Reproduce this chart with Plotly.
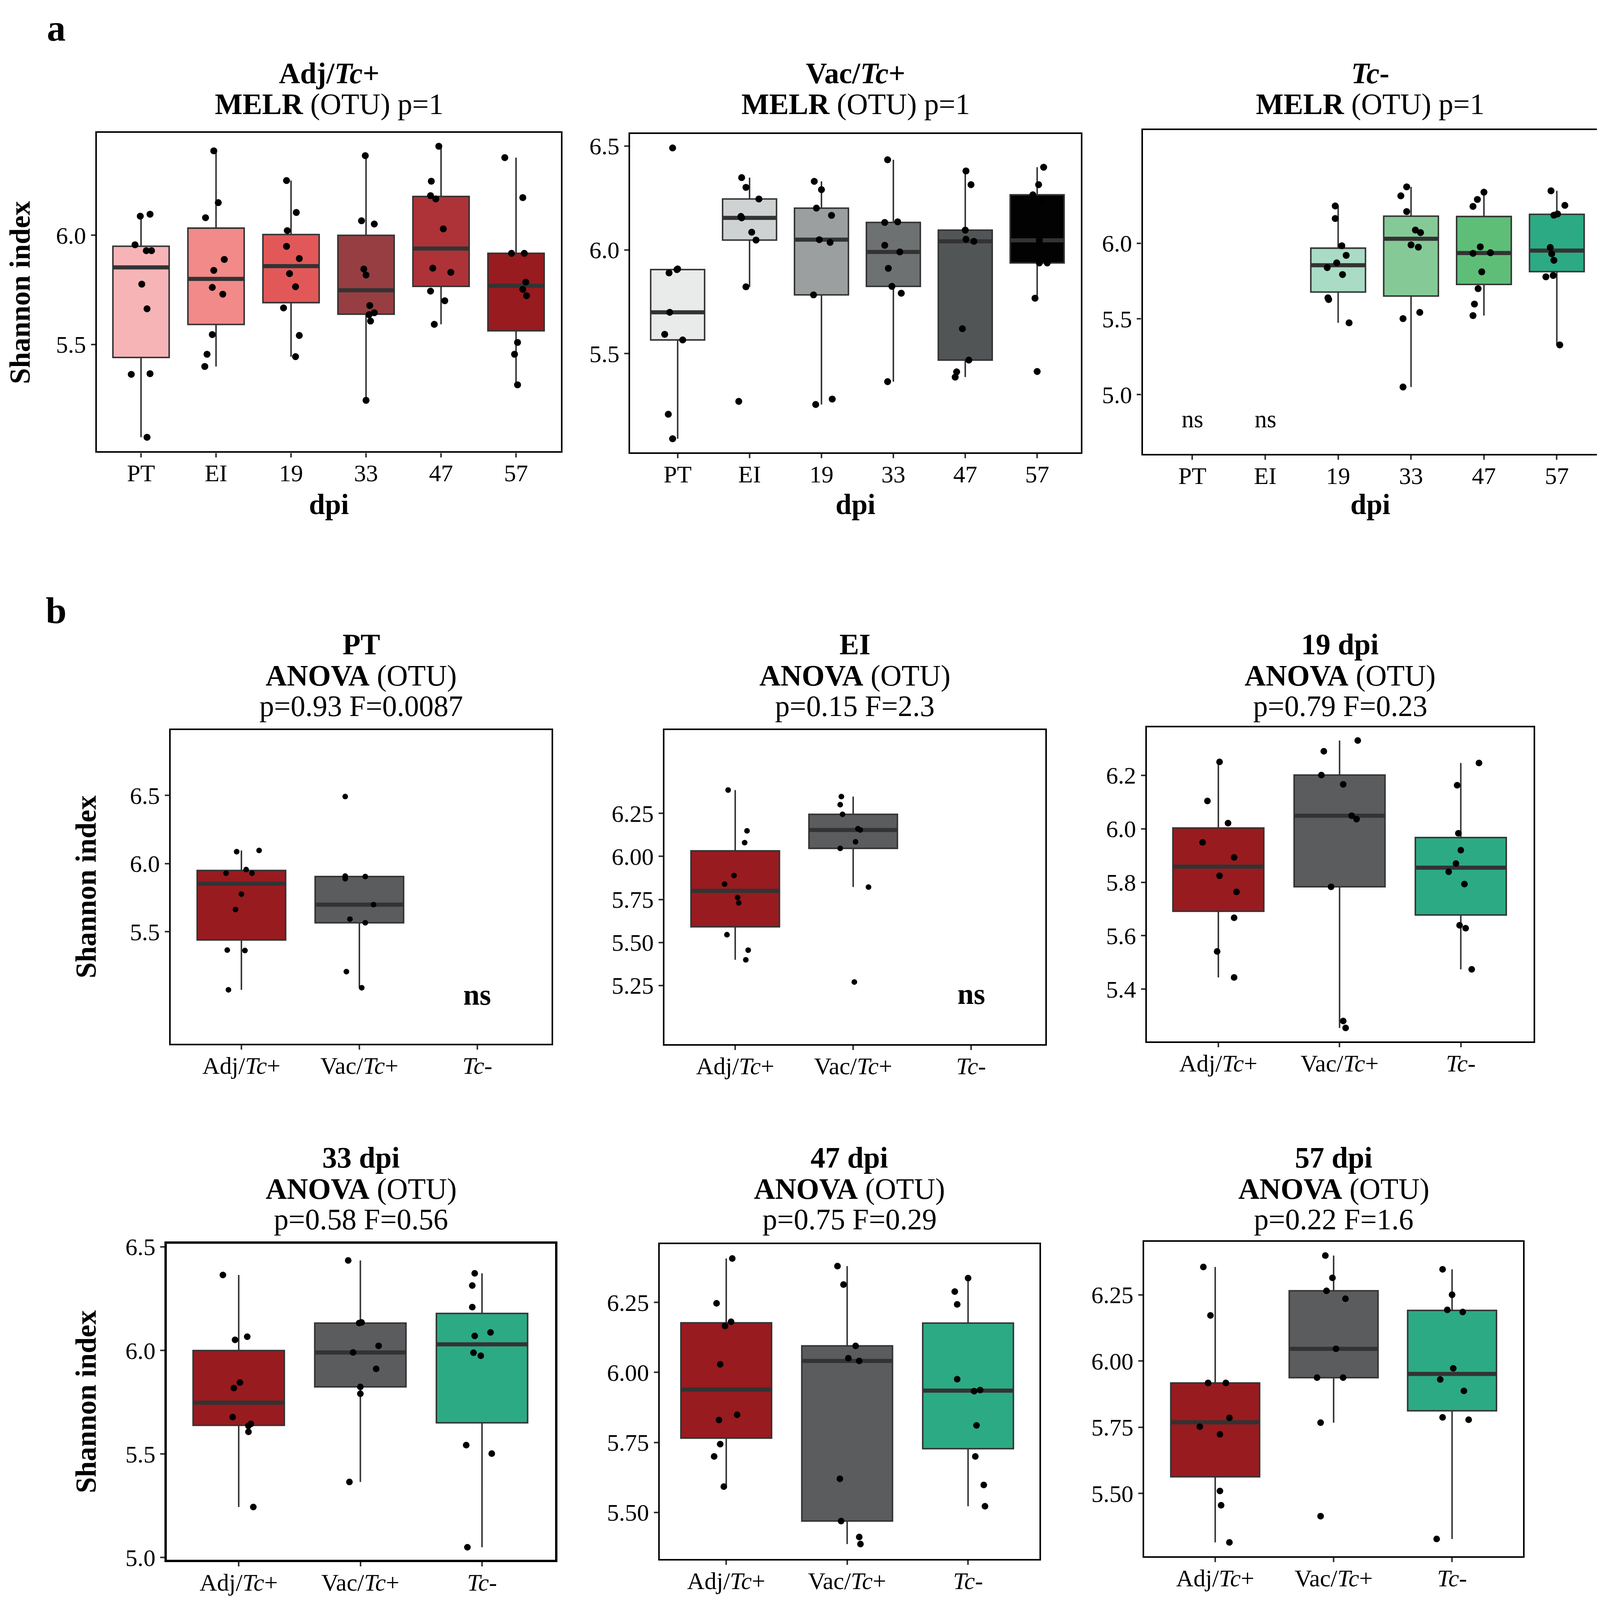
import numpy as np
import plotly.graph_objects as go

# the reference is laid out in a 4757 x 5815 pixel frame; the browser page is 4096 x 4096,
# so the layout is kept in fractions of that frame and pixel sizes are scaled down
REF_W, REF_H = 4757, 5815
FIG_W, FIG_H = 4088, 4088
K = 0.8                      # text scale
KM = 0.85                    # marker / line scale
KV = FIG_H / REF_H           # vertical scale
FONT = "Liberation Serif"

timepoints = ["PT", "EI", "19", "33", "47", "57"]
group_labels = ["Adj/<i>Tc</i>+", "Vac/<i>Tc</i>+", "<i>Tc</i>-"]

# Shannon index per animal
adj_shannon = {
    "PT": [6.096, 6.087, 5.956, 5.929, 5.929, 5.776, 5.663, 5.363, 5.366, 5.075],
    "EI": [6.386, 6.149, 6.080, 5.889, 5.839, 5.761, 5.730, 5.545, 5.455, 5.399],
    "19": [6.250, 6.104, 6.021, 5.949, 5.893, 5.824, 5.764, 5.667, 5.541, 5.444],
    "33": [6.364, 6.066, 6.051, 5.845, 5.818, 5.678, 5.645, 5.636, 5.607, 5.244],
    "47": [6.407, 6.247, 6.181, 6.166, 6.029, 5.849, 5.830, 5.744, 5.700, 5.592],
    "57": [6.355, 6.172, 5.917, 5.917, 5.785, 5.752, 5.723, 5.509, 5.455, 5.315],
}
vac_shannon = {
    "PT": [6.491, 5.908, 5.905, 5.889, 5.699, 5.593, 5.566, 5.208, 5.090],
    "EI": [6.348, 6.301, 6.245, 6.161, 6.154, 6.085, 6.047, 5.822, 5.270],
    "19": [6.330, 6.290, 6.201, 6.166, 6.049, 6.036, 5.783, 5.281, 5.255],
    "33": [6.434, 6.135, 6.132, 6.022, 5.990, 5.911, 5.824, 5.791, 5.365],
    "47": [6.380, 6.314, 6.095, 6.051, 6.041, 5.620, 5.469, 5.412, 5.387],
    "57": [6.398, 6.314, 6.265, 6.235, 6.046, 5.937, 5.937, 5.767, 5.414],
}
tcn_shannon = {
    "19": [6.246, 6.163, 5.983, 5.920, 5.870, 5.839, 5.793, 5.639, 5.628, 5.474],
    "33": [6.372, 6.313, 6.209, 6.087, 6.070, 5.989, 5.974, 5.543, 5.502, 5.050],
    "47": [6.337, 6.289, 6.243, 5.976, 5.937, 5.933, 5.811, 5.700, 5.598, 5.522],
    "57": [6.346, 6.250, 6.193, 6.185, 5.972, 5.930, 5.887, 5.787, 5.778, 5.328],
}

# horizontal jitter of each point (category units), panel a and panel b
adj_jit_a = {
    "PT": [0.12, -0.01, -0.08, 0.07, 0.14, 0.01, 0.08, -0.13, 0.12, 0.08],
    "EI": [-0.03, 0.03, -0.14, 0.11, -0.03, -0.05, 0.09, -0.05, -0.12, -0.15],
    "19": [-0.06, 0.07, -0.05, -0.06, 0.11, -0.02, 0.06, -0.10, 0.11, 0.06],
    "33": [-0.01, -0.06, 0.11, -0.03, 0.0, 0.05, 0.11, 0.04, 0.06, 0.0],
    "47": [-0.03, -0.13, -0.14, -0.07, 0.03, -0.11, 0.13, -0.14, 0.05, -0.09],
    "57": [-0.15, 0.09, -0.06, 0.11, 0.13, 0.09, 0.14, 0.02, -0.02, 0.02],
}
vac_jit_a = {
    "PT": [-0.07, 0.0, -0.01, -0.12, -0.11, -0.18, 0.07, -0.13, -0.07],
    "EI": [-0.11, -0.05, 0.13, -0.12, -0.11, 0.03, 0.09, -0.05, -0.15],
    "19": [-0.10, 0.0, -0.07, 0.14, -0.03, 0.12, -0.11, 0.15, -0.08],
    "33": [-0.08, 0.06, -0.12, -0.12, 0.09, -0.07, -0.02, 0.11, -0.08],
    "47": [0.01, 0.08, 0.0, 0.01, 0.12, -0.04, 0.05, -0.12, -0.14],
    "57": [0.09, 0.02, -0.06, 0.06, 0.03, 0.03, 0.14, -0.03, 0.0],
}
tcn_jit_a = {
    "19": [-0.04, -0.04, 0.05, 0.11, -0.02, -0.15, 0.06, -0.14, -0.13, 0.15],
    "33": [-0.06, -0.14, -0.06, 0.06, 0.13, 0.0, 0.10, 0.12, -0.11, -0.11],
    "47": [0.0, -0.09, -0.15, -0.05, 0.09, -0.15, -0.03, -0.08, -0.13, -0.15],
    "57": [-0.08, 0.11, 0.01, -0.04, -0.09, -0.07, -0.04, -0.05, -0.15, 0.04],
}
adj_jit_b = {
    "PT": [0.15, -0.04, 0.04, -0.13, 0.09, 0.0, -0.05, 0.03, -0.12, -0.11],
    "EI": [-0.06, 0.10, 0.08, -0.01, -0.09, 0.02, 0.03, -0.07, 0.11, 0.09],
    "19": [0.01, -0.09, 0.08, -0.13, 0.13, 0.01, 0.15, 0.13, -0.01, 0.13],
    "33": [-0.13, 0.07, -0.03, 0.01, -0.04, -0.05, 0.10, 0.08, 0.08, 0.12],
    "47": [0.05, -0.08, 0.04, -0.01, -0.05, 0.09, -0.06, -0.05, -0.10, -0.02],
    "57": [-0.10, -0.04, -0.06, 0.09, 0.12, -0.13, 0.04, 0.04, 0.05, 0.12],
}
vac_jit_b = {
    "PT": [-0.12, -0.12, 0.05, -0.12, 0.12, -0.08, 0.05, -0.11, 0.02],
    "EI": [-0.10, -0.11, -0.09, 0.04, 0.06, 0.02, -0.11, 0.13, 0.01],
    "19": [0.15, -0.13, -0.15, 0.03, 0.10, 0.14, -0.07, 0.03, 0.05],
    "33": [-0.10, 0.01, -0.01, 0.15, -0.06, 0.13, 0.0, 0.0, -0.09],
    "47": [-0.08, -0.03, 0.07, 0.01, 0.10, -0.06, -0.05, 0.10, 0.11],
    "57": [-0.07, -0.01, -0.06, 0.10, 0.02, -0.14, 0.08, -0.11, -0.11],
}
tcn_jit_b = {
    "19": [0.15, -0.03, -0.02, 0.0, -0.04, -0.10, 0.03, -0.01, 0.04, 0.09],
    "33": [-0.06, -0.08, -0.08, 0.07, -0.06, -0.07, -0.01, -0.13, 0.08, -0.12],
    "47": [0.0, -0.11, -0.09, -0.09, 0.10, 0.05, 0.07, 0.06, 0.13, 0.14],
    "57": [-0.08, 0.0, -0.04, 0.09, 0.01, -0.10, 0.10, -0.08, 0.14, -0.13],
}

# ANOVA results per timepoint (panel b)
anova_p = ["0.93", "0.15", "0.79", "0.58", "0.75", "0.22"]
anova_f = ["0.0087", "2.3", "0.23", "0.56", "0.29", "1.6"]
b_titles = ["PT", "EI", "19 dpi", "33 dpi", "47 dpi", "57 dpi"]

adj_fill = ["#F6B4B6", "#F18A88", "#E25858", "#963E42", "#AD3338", "#981B1F"]
vac_fill = ["#E9EBEA", "#CFD2D3", "#9C9FA0", "#6E7171", "#525556", "#020202"]
tcn_fill = {"19": "#A9DBC5", "33": "#85CA96", "47": "#5EBE77", "57": "#2CAA84"}
b_fill = ["#981B1F", "#5B5C5E", "#2CAA84"]

# panel frames in reference pixels: left, right, top, bottom
panels = [
    dict(box=(279, 1662, 443, 1618), yr=[5.0105, 6.468], tv=[5.5, 6.0], fmt=".1f", xr=[-0.59, 5.6], ms=21, lw=5),
    dict(box=(1868, 3211, 447, 1622), yr=[5.024, 6.558], tv=[5.5, 6.0, 6.5], fmt=".1f", xr=[-0.66, 5.61], ms=21, lw=5),
    dict(box=(3395, 4750, 432, 1627), yr=[4.609, 6.748], tv=[5.0, 5.5, 6.0], fmt=".1f", xr=[-0.68, 5.56], ms=21, lw=5),
    dict(box=(499, 1634, 2647, 3804), yr=[4.68, 6.977], tv=[5.5, 6.0, 6.5], fmt=".1f", xr=[-0.6, 2.63], ms=17, lw=5),
    dict(box=(1970, 3105, 2647, 3806), yr=[4.908, 6.734], tv=[5.25, 5.5, 5.75, 6.0, 6.25], fmt=".2f", xr=[-0.6, 2.63], ms=17, lw=5),
    dict(box=(3407, 4559, 2636, 3796), yr=[5.204, 6.380], tv=[5.4, 5.6, 5.8, 6.0, 6.2], fmt=".1f", xr=[-0.59, 2.6], ms=20, lw=5),
    dict(box=(488, 1644, 4542, 5708), yr=[4.99, 6.515], tv=[5.0, 5.5, 6.0, 6.5], fmt=".1f", xr=[-0.59, 2.6], ms=20, lw=7),
    dict(box=(1956, 3087, 4543, 5705), yr=[5.334, 6.459], tv=[5.5, 5.75, 6.0, 6.25], fmt=".2f", xr=[-0.55, 2.59], ms=20, lw=5),
    dict(box=(3399, 4528, 4535, 5695), yr=[5.263, 6.450], tv=[5.5, 5.75, 6.0, 6.25], fmt=".2f", xr=[-0.6, 2.6], ms=20, lw=5),
]


def box_stats(v):
    v = np.asarray(v)
    q1, med, q3 = np.percentile(v, [25, 50, 75])
    iqr = q3 - q1
    lo = v[v >= q1 - 1.5 * iqr].min()
    hi = v[v <= q3 + 1.5 * iqr].max()
    return q1, med, q3, lo, hi


fig = go.Figure()


def sfx(n):
    return "" if n == 1 else str(n)


def add_group(n, pos, vals, jit, fill, msize):
    q1, med, q3, lo, hi = box_stats(vals)
    xa, ya = "x" + sfx(n), "y" + sfx(n)
    fig.add_trace(go.Box(
        x=[pos], q1=[q1], median=[med], q3=[q3], lowerfence=[lo], upperfence=[hi],
        orientation="v", width=0.75, fillcolor=fill,
        line=dict(color="#333333", width=4.5 * KM), whiskerwidth=0, boxpoints=False,
        xaxis=xa, yaxis=ya, showlegend=False, hoverinfo="skip"))
    fig.add_trace(go.Scatter(
        x=[pos - 0.375, pos + 0.375], y=[med, med], mode="lines",
        line=dict(color="#333333", width=15 * KV), xaxis=xa, yaxis=ya,
        showlegend=False, hoverinfo="skip"))
    fig.add_trace(go.Scatter(
        x=[pos + j for j in jit], y=vals, mode="markers",
        marker=dict(color="black", size=msize * KM, line=dict(width=0)),
        xaxis=xa, yaxis=ya, showlegend=False))


# panel a: one treatment across timepoints
for i, tp in enumerate(timepoints):
    add_group(1, i, adj_shannon[tp], adj_jit_a[tp], adj_fill[i], panels[0]["ms"])
    add_group(2, i, vac_shannon[tp], vac_jit_a[tp], vac_fill[i], panels[1]["ms"])
    if tp in tcn_shannon:
        add_group(3, i, tcn_shannon[tp], tcn_jit_a[tp], tcn_fill[tp], panels[2]["ms"])

# panel b: treatments compared at each timepoint
for k, tp in enumerate(timepoints):
    n = 4 + k
    ms = panels[n - 1]["ms"]
    add_group(n, 0, adj_shannon[tp], adj_jit_b[tp], b_fill[0], ms)
    add_group(n, 1, vac_shannon[tp], vac_jit_b[tp], b_fill[1], ms)
    if tp in tcn_shannon:
        add_group(n, 2, tcn_shannon[tp], tcn_jit_b[tp], b_fill[2], ms)

tick_font = dict(family=FONT, size=77 * K, color="black")
layout = dict(
    width=FIG_W, height=FIG_H, margin=dict(l=0, r=0, t=0, b=0, pad=0),
    paper_bgcolor="white", plot_bgcolor="white", showlegend=False, boxmode="overlay",
)
for n, p in enumerate(panels, 1):
    l, r, t, b = p["box"]
    s = sfx(n)
    if n <= 3:
        tvx, ttx = list(range(6)), timepoints
    else:
        tvx, ttx = [0, 1, 2], group_labels
    common = dict(showline=True, mirror=True, linecolor="black", linewidth=p["lw"] * KM,
                  ticks="outside", ticklen=11, tickwidth=4, tickcolor="#333333",
                  showgrid=False, zeroline=False, tickfont=tick_font, fixedrange=True)
    layout["xaxis" + s] = dict(domain=[l / REF_W, r / REF_W], anchor="y" + s, range=p["xr"],
                               tickmode="array", tickvals=tvx, ticktext=ttx,
                               ticklabelstandoff=-12, **common)
    layout["yaxis" + s] = dict(domain=[1 - b / REF_H, 1 - t / REF_H], anchor="x" + s, range=p["yr"],
                               tickmode="array", tickvals=p["tv"], tickformat=p["fmt"], **common)
fig.update_layout(**layout)


def note(text, x, y, size, xref="paper", yref="paper", angle=0):
    if xref == "paper":
        x = x / REF_W
    if yref == "paper":
        y = 1 - y / REF_H
    fig.add_annotation(text=text, x=x, y=y, xref=xref, yref=yref, showarrow=False,
                       xanchor="center", yanchor="middle", textangle=angle,
                       font=dict(family=FONT, size=size * K, color="black"))


a_heads = ["<b>Adj/<i>Tc</i>+</b>", "<b>Vac/<i>Tc</i>+</b>", "<b><i>Tc</i>-</b>"]
for n in range(1, 4):
    l, r, t, b = panels[n - 1]["box"]
    cx = (l + r) / 2
    note(a_heads[n - 1], cx, 222, 94)
    note("<b>MELR</b> (OTU) p=1", cx, 338, 94)
    note("<b>dpi</b>", cx, 1813, 92)

for k in range(6):
    l, r, t, b = panels[3 + k]["box"]
    cx = (l + r) / 2
    y0 = 2330 if k < 3 else 4224
    note("<b>" + b_titles[k] + "</b>", cx, y0, 94)
    note("<b>ANOVA</b> (OTU)", cx, y0 + 116, 94)
    note("p=" + anova_p[k] + " F=" + anova_f[k], cx, y0 + 228, 94)

note("<b>Shannon index</b>", 50, 1031, 92, angle=-90)
note("<b>Shannon index</b>", 247, 3225, 92, angle=-90)
note("<b>Shannon index</b>", 247, 5125, 92, angle=-90)

note("<b>a</b>", 158, 55, 120)
note("<b>b</b>", 158, 2205, 120)

# groups without data
note("ns", 0, 4.84, 78, xref="x3", yref="y3")
note("ns", 1, 4.84, 78, xref="x3", yref="y3")
note("<b>ns</b>", 2, 5.04, 94, xref="x4", yref="y4")
note("<b>ns</b>", 2, 5.20, 94, xref="x5", yref="y5")

fig.write_html("out.html")
